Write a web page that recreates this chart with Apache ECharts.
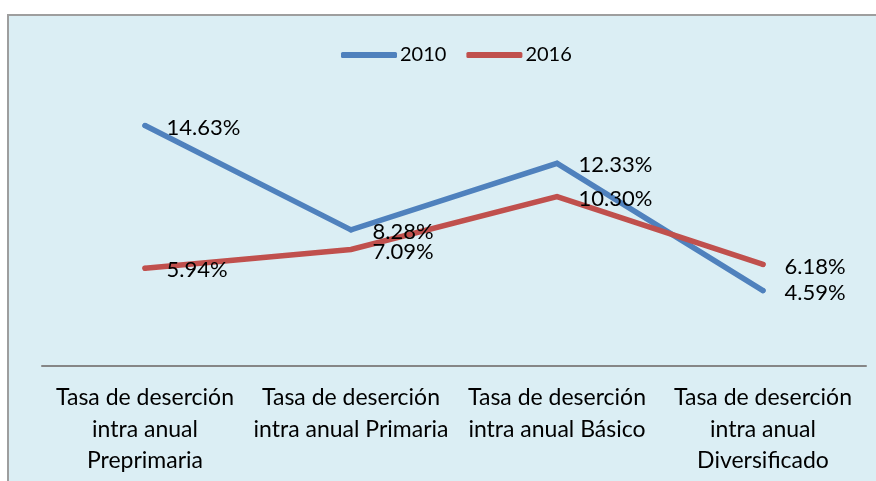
<!DOCTYPE html>
<html>
<head>
<meta charset="utf-8">
<script src="https://cdn.jsdelivr.net/npm/echarts@6/dist/echarts.min.js"></script>
<style>
  html, body { margin: 0; padding: 0; background: #ffffff; }
  #wrap { position: relative; width: 876px; height: 481px; overflow: hidden; background: #ffffff; }
  #box { position: absolute; left: 7px; top: 14px; width: 880px; height: 480px;
         background: #DBEEF4; border-left: 2px solid #9E9E9E; border-top: 2px solid #9E9E9E; }
  #chart { position: absolute; left: 0; top: 0; width: 876px; height: 481px; }
</style>
</head>
<body>
<div id="wrap">
  <div id="box"></div>
  <div id="chart"></div>
</div>
<script>
const categories = [
  "Tasa de deserción\nintra anual\nPreprimaria",
  "Tasa de deserción\nintra anual Primaria",
  "Tasa de deserción\nintra anual Básico",
  "Tasa de deserción\nintra anual\nDiversificado"
];
const seriesNames = ["2010", "2016"];
const values2010 = [14.63, 8.28, 12.33, 4.59];
const values2016 = [5.94, 7.09, 10.30, 6.18];

const FONT = "Lato";
const chart = echarts.init(document.getElementById('chart'), null, { renderer: 'canvas' });

function mkSeries(name, data, color) {
  return {
    name: name,
    type: 'line',
    data: data,
    symbol: 'circle',
    symbolSize: 5,
    showSymbol: true,
    itemStyle: { color: color },
    lineStyle: { color: color, width: 5.5, cap: 'round', join: 'miter' },
    label: {
      show: true,
      position: 'right',
      distance: 19,
      offset: [0, 2],
      color: '#000000',
      fontFamily: FONT,
      fontSize: 22,
      formatter: p => p.value.toFixed(2) + '%'
    },
    emphasis: { disabled: true },
    animation: false
  };
}

chart.setOption({
  backgroundColor: 'transparent',
  animation: false,
  legend: {
    data: seriesNames,
    left: 336,
    top: 40,
    icon: 'roundRect',
    itemWidth: 56,
    itemHeight: 6,
    itemGap: 20,
    textStyle: { fontFamily: FONT, fontSize: 20, color: '#000000', padding: [0, 0, 0, -2] }
  },
  grid: { left: 42, right: 10, top: 103, bottom: 115, containLabel: false },
  xAxis: {
    type: 'category',
    data: categories,
    boundaryGap: true,
    axisLine: { show: true, lineStyle: { color: '#868686', width: 2 } },
    axisTick: { show: false },
    axisLabel: {
      interval: 0,
      margin: 16,
      color: '#000000',
      fontFamily: FONT,
      fontSize: 23,
      lineHeight: 31.5,
      align: 'center'
    }
  },
  yAxis: {
    type: 'value',
    min: 0,
    max: 16,
    interval: 2,
    show: false,
    splitLine: { show: false }
  },
  series: [
    mkSeries(seriesNames[0], values2010, '#4F81BD'),
    mkSeries(seriesNames[1], values2016, '#C0504D')
  ]
});
</script>
</body>
</html>
